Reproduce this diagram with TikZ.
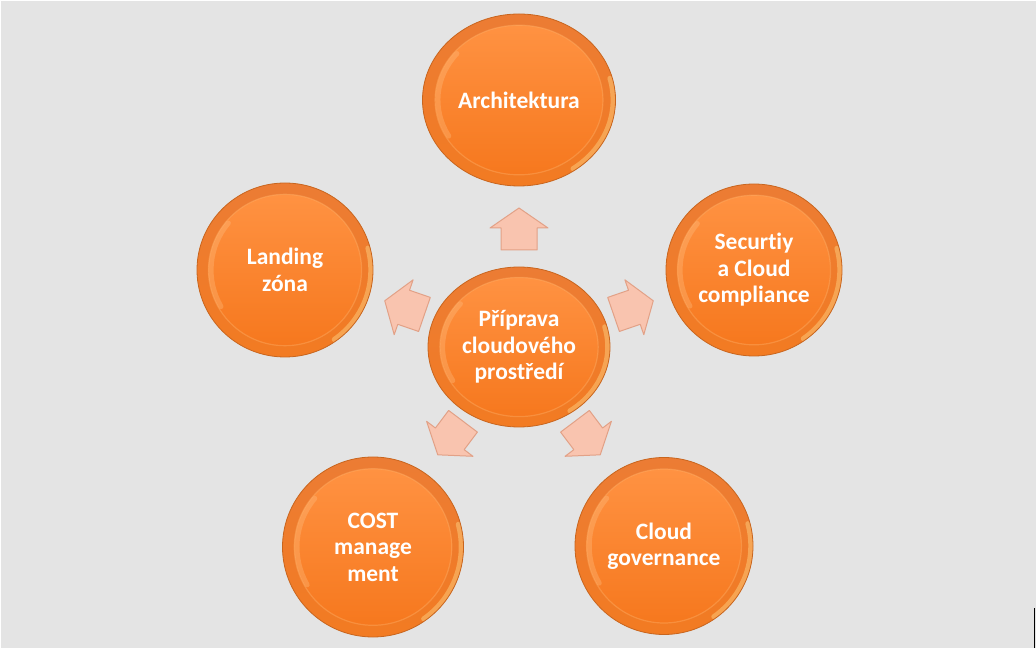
\documentclass[tikz,border=0pt]{standalone}
\usepackage{fontspec}
\setmainfont[Ligatures=NoCommon]{Carlito}
\usetikzlibrary{shapes.geometric,calc}
\definecolor{bg}{HTML}{E4E4E4}
\definecolor{orA}{HTML}{EC7C34}
\definecolor{orB}{HTML}{F27B22}
\definecolor{inA}{HTML}{FF9242}
\definecolor{inB}{HTML}{F6781E}
\definecolor{orEdge}{HTML}{C8651E}
\definecolor{orHL}{HTML}{FFD888}
\definecolor{inRim}{HTML}{FFB26A}
\definecolor{inGlow}{HTML}{FFC890}
\definecolor{arFill}{HTML}{F9C4AF}
\definecolor{arEdge}{HTML}{E2A187}
\newcommand\bubfont{\fontsize{23.5}{26.5}\selectfont\bfseries}
\tikzset{
  bubble/.style={ellipse, inner sep=0pt, text=white, font=\bubfont, align=center,
    top color=orA, bottom color=orB, draw=orEdge, line width=0.8pt,
    path picture={
      \path let \p1=(path picture bounding box.north east),
                \p2=(path picture bounding box.south west),
                \n1={0.5*(\x1-\x2)}, \n2={0.5*(\y1-\y2)} in
        [draw=orHL, line width=5pt, opacity=0.45, line cap=round]
        (path picture bounding box.center) ++({0.975*\n1*cos(-55)},{0.975*\n2*sin(-55)})
        arc[start angle=-55, end angle=15, x radius={0.975*\n1}, y radius={0.975*\n2}];
      \path let \p1=(path picture bounding box.north east),
                \p2=(path picture bounding box.south west),
                \n1={0.5*(\x1-\x2)}, \n2={0.5*(\y1-\y2)} in
        [top color=inA, bottom color=inB]
        (path picture bounding box.center) ellipse [x radius={0.87*\n1}, y radius={0.87*\n2}];
      \path let \p1=(path picture bounding box.north east),
                \p2=(path picture bounding box.south west),
                \n1={0.5*(\x1-\x2)}, \n2={0.5*(\y1-\y2)} in
        [draw=inRim, line width=1.2pt, opacity=0.4]
        (path picture bounding box.center) ellipse [x radius={0.87*\n1}, y radius={0.87*\n2}];
      \path let \p1=(path picture bounding box.north east),
                \p2=(path picture bounding box.south west),
                \n1={0.5*(\x1-\x2)}, \n2={0.5*(\y1-\y2)} in
        [draw=inGlow, line width=5pt, opacity=0.3, line cap=round]
        (path picture bounding box.center) ++({0.84*\n1*cos(140)},{0.84*\n2*sin(140)})
        arc[start angle=140, end angle=210, x radius={0.84*\n1}, y radius={0.84*\n2}];
    }},
  blockarrow/.style={fill=arFill, draw=arEdge, line width=1pt, line join=round}
}
\begin{document}
\begin{tikzpicture}[x=1pt,y=1pt]
\fill[bg] (0,0) rectangle (1036,648);
\useasboundingbox (0,0) rectangle (1036,648);
\draw[white, line width=1pt] (0.5,0) -- (0.5,647.5) -- (1036,647.5);
\draw[black, line width=1.5pt] (1034.6,0) -- (1034.6,40);

\node[bubble, minimum width=182, minimum height=160] (c) at (519,301) {Příprava\\cloudového\\prostředí};
\node[bubble, minimum width=193, minimum height=172] (arch) at (519,548) {Architektura};
\node[bubble, minimum width=176, minimum height=174] (land) at (285,378) {Landing\\zóna};
\node[bubble, minimum width=176, minimum height=172] (sec) at (754,378) {Securtiy\\a Cloud\\compliance};
\node[bubble, minimum width=181, minimum height=180] (cost) at (373,101) {COST\\manage\\ment};
\node[bubble, minimum width=178, minimum height=177] (gov) at (664,102) {Cloud\\governance};

\foreach \ang/\r in {90/118, 19/121, -53/114, -127/114, 161/121}{
  \draw[blockarrow, shift={($(c)+(\ang:\r)$)}, rotate=\ang]
    (21,0) -- (1,29) -- (1,18) -- (-21,18) -- (-21,-18) -- (1,-18) -- (1,-29) -- cycle;
}
\end{tikzpicture}
\end{document}
